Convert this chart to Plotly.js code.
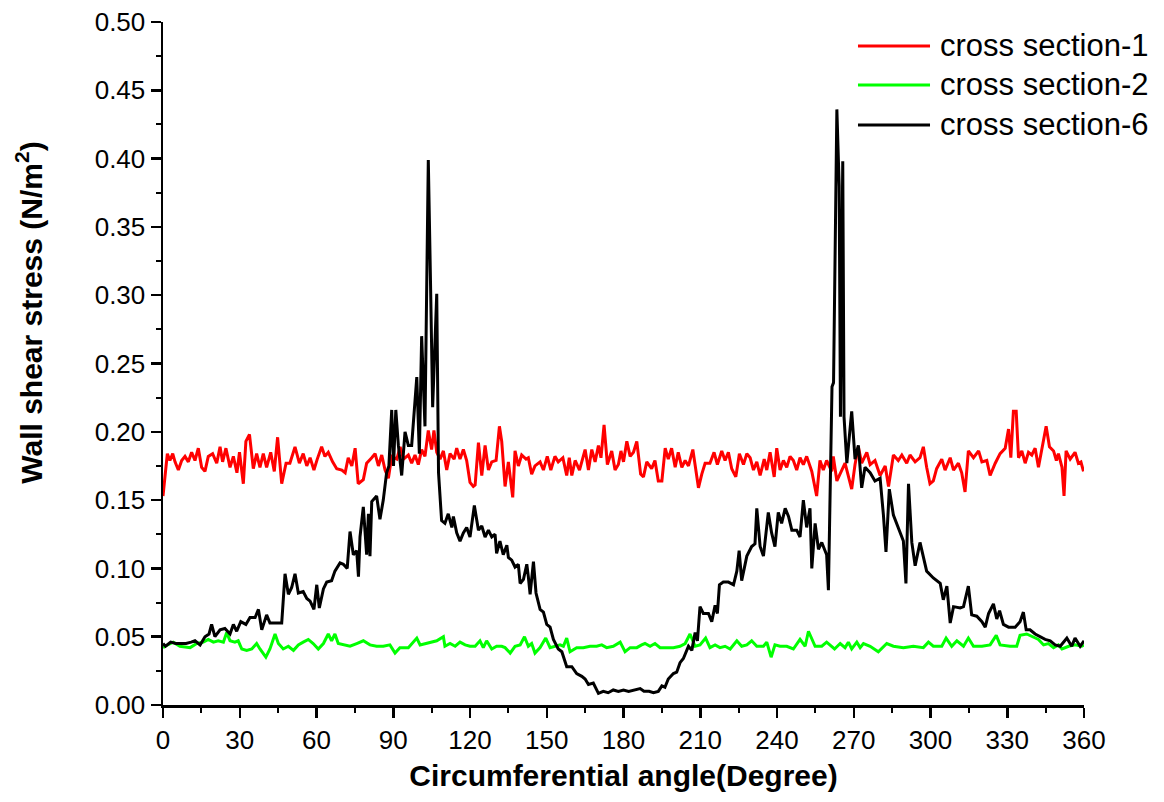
<!DOCTYPE html>
<html>
<head>
<meta charset="utf-8">
<script src="https://cdn.plot.ly/plotly-3.0.1.min.js"></script>
<style>html,body{margin:0;padding:0;background:#fff;}#chart{width:1164px;height:802px;}</style>
</head>
<body>
<div id="chart"></div>
<script>
// ---- cross section-1 (red) ----
const angle1 = [
  0, 1.7, 2.7, 3.8, 4.7, 6, 7.3, 8.6, 9.9, 11.2,
  12.5, 13.8, 15.1, 16.4, 17.7, 19.4, 21, 22.3, 23.3, 24.6,
  26.2, 27.5, 28.9, 29.9, 31.4, 32.4, 33.8, 35.3, 36.6, 37.9,
  39.2, 40.5, 42.1, 43.5, 44.8, 46.4, 48.1, 49.6, 51.6, 53.3,
  54.8, 56.2, 57.5, 59, 60.3, 62, 63.3, 64.6, 66.3, 67.9,
  69.9, 71.2, 72.4, 73.8, 75.1, 76.3, 78.3, 79.6, 81.6, 82.9,
  84.2, 85.5, 86.8, 88.1, 89.4, 91.4, 92.7, 94, 95.9, 97.2,
  98.5, 99.8, 101.1, 102.4, 103.7, 105, 105.9, 107, 108.3, 109.6,
  110.9, 112.2, 113.8, 114.8, 116.1, 117.4, 118.7, 120, 121.3, 122,
  123.3, 124.6, 125.9, 127.2, 128.5, 130.2, 131.5, 132.4, 133.7, 135,
  136.7, 137.6, 138.9, 140.2, 141.9, 142.8, 144.1, 145.4, 147.4, 148.7,
  150.2, 151.6, 153.2, 154.5, 156.3, 157.8, 158.8, 159.8, 161.1, 162.8,
  165, 166.3, 167.6, 168.9, 170.2, 171.2, 172.4, 173.7, 175.4, 176.7,
  178, 179, 180, 181.3, 182.6, 183.9, 185.2, 186.7, 187.8, 189.1,
  191, 192.3, 193.6, 195, 196.3, 197.5, 198.8, 200.2, 201.4, 202.8,
  204.1, 205.4, 207.1, 208, 209.3, 210.6, 211.9, 213.8, 215.4, 216.7,
  218.4, 219.7, 221, 222.3, 223.9, 225.3, 226.9, 228.2, 229.5, 230.8,
  232.1, 233.4, 235, 236, 237.3, 238.9, 239.9, 241.2, 242.5, 243.8,
  245.1, 246.4, 247.7, 249, 250.3, 251.6, 253.6, 255.5, 256.8, 258.1,
  259.4, 261.4, 262, 263.4, 264.7, 266.6, 269.2, 270.5, 271.8, 273.1,
  275.1, 276.4, 278.3, 280.3, 282.3, 283.6, 285.5, 287.4, 288.8, 290.7,
  292, 294, 295.9, 297.2, 298.5, 299.8, 301.1, 302.4, 304.4, 305.7,
  307.7, 309, 310.9, 312.2, 313.5, 314.8, 316.8, 318.8, 320.1, 322,
  323.3, 325.3, 327.2, 329.2, 330.5, 331.4, 332.4, 333.5, 334.4, 335.7,
  337, 338.3, 339.6, 340.9, 342.2, 343.9, 345.2, 346.5, 348.1, 349.2,
  350, 351.4, 352.2, 353, 354.6, 356.5, 357.8, 358.8, 359.8
];
const wss1 = [
  0.153, 0.184, 0.179, 0.184, 0.178, 0.172, 0.179, 0.182, 0.178, 0.185,
  0.179, 0.188, 0.174, 0.171, 0.182, 0.184, 0.177, 0.189, 0.178, 0.188,
  0.174, 0.182, 0.170, 0.185, 0.162, 0.193, 0.198, 0.173, 0.184, 0.174,
  0.184, 0.174, 0.185, 0.171, 0.196, 0.162, 0.177, 0.177, 0.189, 0.177,
  0.184, 0.175, 0.181, 0.172, 0.180, 0.189, 0.182, 0.185, 0.178, 0.173,
  0.172, 0.170, 0.181, 0.175, 0.188, 0.162, 0.165, 0.177, 0.181, 0.184,
  0.175, 0.183, 0.172, 0.166, 0.182, 0.180, 0.189, 0.180, 0.183, 0.177,
  0.183, 0.176, 0.187, 0.182, 0.201, 0.187, 0.201, 0.185, 0.180, 0.186,
  0.172, 0.184, 0.180, 0.188, 0.180, 0.187, 0.179, 0.163, 0.160, 0.161,
  0.192, 0.168, 0.190, 0.172, 0.178, 0.179, 0.204, 0.193, 0.160, 0.178,
  0.152, 0.186, 0.175, 0.183, 0.180, 0.181, 0.169, 0.175, 0.178, 0.172,
  0.182, 0.172, 0.182, 0.178, 0.181, 0.168, 0.181, 0.168, 0.179, 0.172,
  0.187, 0.172, 0.187, 0.178, 0.190, 0.181, 0.205, 0.176, 0.186, 0.172,
  0.176, 0.186, 0.178, 0.193, 0.182, 0.185, 0.193, 0.169, 0.167, 0.178,
  0.173, 0.179, 0.164, 0.164, 0.188, 0.180, 0.188, 0.174, 0.185, 0.174,
  0.179, 0.175, 0.187, 0.176, 0.159, 0.169, 0.177, 0.177, 0.185, 0.176,
  0.186, 0.179, 0.185, 0.173, 0.167, 0.184, 0.176, 0.184, 0.181, 0.172,
  0.178, 0.168, 0.180, 0.172, 0.185, 0.167, 0.188, 0.172, 0.179, 0.174,
  0.182, 0.179, 0.172, 0.181, 0.176, 0.182, 0.171, 0.153, 0.179, 0.172,
  0.179, 0.171, 0.182, 0.164, 0.169, 0.177, 0.158, 0.176, 0.189, 0.177,
  0.185, 0.176, 0.179, 0.168, 0.175, 0.160, 0.183, 0.179, 0.183, 0.177,
  0.183, 0.178, 0.181, 0.189, 0.174, 0.162, 0.164, 0.173, 0.180, 0.172,
  0.181, 0.172, 0.177, 0.170, 0.156, 0.186, 0.181, 0.186, 0.178, 0.179,
  0.168, 0.177, 0.184, 0.188, 0.202, 0.181, 0.215, 0.215, 0.181, 0.186,
  0.177, 0.185, 0.183, 0.188, 0.174, 0.190, 0.204, 0.189, 0.186, 0.179,
  0.184, 0.174, 0.153, 0.186, 0.180, 0.185, 0.177, 0.178, 0.171
];

// ---- cross section-2 (green) ----
const angle2 = [
  0, 0.8, 4, 6.6, 10.6, 13.2, 15.8, 17.7, 19.7, 21.6,
  23.6, 24.9, 26.2, 28.1, 29.4, 30.8, 32.7, 34.7, 36.6, 37.9,
  40.2, 41.8, 43.8, 45.1, 47, 49, 51, 52.9, 54.8, 56.8,
  58.7, 60.7, 62.7, 64.6, 65.9, 67.2, 68.5, 70.5, 73.1, 75.7,
  78.3, 80.9, 83.5, 86.1, 88.7, 90.7, 92.6, 95.9, 99.2, 100.5,
  103.1, 105, 107, 109.6, 110.2, 112.2, 114.2, 116.1, 118.1, 120,
  122, 123.9, 125.2, 126.5, 128.5, 130.4, 132.4, 133.7, 135.7, 137.6,
  139.6, 141.3, 142.8, 144.1, 145.4, 147.4, 149.6, 151.3, 153.2, 155.2,
  156.5, 157.8, 159.1, 161.7, 164.3, 166.9, 169.5, 171.5, 173.4, 176,
  178.7, 180.6, 182.6, 185.2, 187.1, 188.4, 190.4, 192.3, 194.3, 196.9,
  199.5, 202.1, 204.1, 206, 208, 209.9, 212.1, 213.8, 215.8, 217.7,
  219.7, 221.7, 224.3, 226.2, 228.2, 230.1, 232.1, 234.7, 236, 237.7,
  239.2, 241.2, 243.8, 246.4, 249, 251, 252.3, 254.9, 257.5, 259.4,
  262.5, 264.7, 266.6, 267.9, 269.2, 271.2, 272.5, 273.8, 276.4, 279.6,
  282.9, 285.5, 289.4, 293.3, 297.2, 299.2, 301.1, 304.4, 306.1, 308.3,
  310.3, 312.9, 314.8, 316.8, 320.1, 323.3, 325.7, 327.2, 331.1, 333.7,
  335, 337.6, 340.2, 342.2, 344.2, 346.1, 348.1, 350, 351.4, 354,
  356.5, 359.1, 360
];
const wss2 = [
  0.042, 0.043, 0.046, 0.043, 0.042, 0.045, 0.046, 0.048, 0.046, 0.047,
  0.046, 0.053, 0.047, 0.046, 0.047, 0.041, 0.040, 0.041, 0.045, 0.041,
  0.035, 0.041, 0.052, 0.045, 0.041, 0.043, 0.040, 0.044, 0.046, 0.048,
  0.045, 0.041, 0.045, 0.052, 0.047, 0.052, 0.045, 0.044, 0.043, 0.045,
  0.047, 0.044, 0.043, 0.043, 0.044, 0.038, 0.042, 0.042, 0.049, 0.044,
  0.045, 0.046, 0.047, 0.050, 0.043, 0.045, 0.043, 0.046, 0.044, 0.043,
  0.043, 0.047, 0.042, 0.047, 0.041, 0.043, 0.043, 0.042, 0.038, 0.043,
  0.044, 0.050, 0.043, 0.045, 0.038, 0.042, 0.049, 0.042, 0.043, 0.044,
  0.043, 0.049, 0.039, 0.042, 0.042, 0.043, 0.043, 0.044, 0.042, 0.043,
  0.046, 0.039, 0.042, 0.042, 0.044, 0.045, 0.043, 0.045, 0.042, 0.042,
  0.042, 0.043, 0.045, 0.052, 0.043, 0.044, 0.049, 0.042, 0.044, 0.042,
  0.043, 0.041, 0.047, 0.043, 0.044, 0.047, 0.043, 0.043, 0.046, 0.035,
  0.044, 0.043, 0.043, 0.041, 0.048, 0.043, 0.054, 0.043, 0.043, 0.046,
  0.041, 0.045, 0.042, 0.046, 0.041, 0.046, 0.042, 0.045, 0.043, 0.039,
  0.045, 0.043, 0.042, 0.043, 0.042, 0.046, 0.043, 0.043, 0.049, 0.043,
  0.047, 0.043, 0.049, 0.043, 0.043, 0.044, 0.051, 0.044, 0.043, 0.043,
  0.051, 0.052, 0.050, 0.048, 0.044, 0.045, 0.042, 0.044, 0.041, 0.043,
  0.044, 0.043, 0.044
];

// ---- cross section-6 (black) ----
const angle6 = [
  0, 1, 3, 5, 7, 9, 11, 12.5, 14.5, 16.4,
  18, 19, 20.3, 22.3, 24.2, 26.2, 27.5, 28.8, 30.4, 32.4,
  34, 36, 37.3, 38.6, 40.5, 41.8, 44.4, 46.4, 47.7, 49,
  50.3, 51.6, 52.9, 54.8, 56.2, 57.5, 59, 60.1, 61.1, 62.7,
  64, 65.9, 67.2, 69.2, 70.5, 72, 73.1, 74.4, 75.7, 76.4,
  77, 78.3, 79.6, 80.3, 80.9, 81.6, 83.5, 84.8, 86.1, 87.4,
  88.3, 89.4, 90.1, 91, 92, 93.3, 94.6, 95.9, 97.2, 97.9,
  99.2, 100.2, 101.1, 102.4, 103.7, 104.5, 105.4, 107, 107.7, 108.9,
  110.2, 111.5, 112.9, 113.5, 114.8, 116.1, 117.4, 118.7, 120, 121.7,
  123.3, 124.6, 125.9, 127.2, 128.5, 129.8, 130.4, 131.7, 133, 134.4,
  135, 136.3, 137.6, 138.9, 139.6, 140.9, 142.2, 142.8, 143.5, 144.8,
  145.8, 147.4, 148.7, 150, 151.3, 152.6, 154.5, 155.9, 157.8, 159.8,
  161.7, 163.7, 165, 166.3, 168.2, 170.2, 172.1, 174, 176, 178,
  180, 182, 184, 186.5, 188, 190, 191.7, 193.6, 195, 196.2,
  197.5, 199.5, 200.8, 202.1, 203.4, 205.4, 206.7, 208, 208.9, 209.9,
  211.2, 213.2, 214.5, 215.8, 216.7, 217.5, 219, 221, 223, 224.3,
  225.2, 226.2, 228.2, 230.1, 231.4, 232.1, 233.4, 234.7, 236.6, 237.9,
  239.2, 240.5, 241.8, 243.2, 244.5, 245.8, 247.7, 249, 250.3, 251.6,
  252.9, 253.6, 254.9, 256.2, 257.5, 259.4, 260.1, 261.5, 262.1, 263.4,
  264.3, 264.8, 265.7, 266.2, 267.3, 268.3, 269.2, 270.5, 271.8, 273.1,
  274.4, 276.4, 278.3, 280.3, 281.6, 282.6, 283.9, 285.5, 287.4, 289.4,
  290.4, 291.4, 292.7, 294, 295.9, 298.5, 301.1, 303.8, 305, 306.4,
  307.7, 309, 311.6, 312.9, 314.8, 316.1, 318.1, 320.1, 321.4, 322.7,
  324.6, 325.9, 327, 328.5, 330.5, 333.1, 335, 336.3, 337.4, 338.9,
  340.9, 342.9, 344.8, 346.8, 348.7, 350.7, 353.3, 355.2, 356.5, 358.5, 360
];
const wss6 = [
  0.045, 0.043, 0.046, 0.045, 0.045, 0.045, 0.046, 0.047, 0.044, 0.050,
  0.052, 0.059, 0.050, 0.055, 0.056, 0.052, 0.059, 0.054, 0.061, 0.059,
  0.064, 0.064, 0.070, 0.055, 0.066, 0.060, 0.060, 0.060, 0.096, 0.081,
  0.086, 0.096, 0.082, 0.083, 0.078, 0.076, 0.070, 0.088, 0.071, 0.085,
  0.090, 0.091, 0.098, 0.104, 0.103, 0.100, 0.127, 0.110, 0.113, 0.094,
  0.123, 0.145, 0.110, 0.140, 0.109, 0.149, 0.153, 0.136, 0.150, 0.170,
  0.175, 0.216, 0.175, 0.216, 0.190, 0.168, 0.200, 0.190, 0.190, 0.206,
  0.240, 0.184, 0.270, 0.204, 0.399, 0.316, 0.218, 0.301, 0.170, 0.135,
  0.133, 0.140, 0.130, 0.138, 0.126, 0.120, 0.126, 0.130, 0.123, 0.146,
  0.128, 0.131, 0.123, 0.128, 0.123, 0.125, 0.111, 0.120, 0.110, 0.117,
  0.108, 0.106, 0.101, 0.103, 0.089, 0.092, 0.103, 0.094, 0.081, 0.105,
  0.082, 0.070, 0.068, 0.059, 0.057, 0.048, 0.041, 0.039, 0.028, 0.028,
  0.023, 0.021, 0.019, 0.015, 0.016, 0.0085, 0.010, 0.009, 0.011, 0.010,
  0.011, 0.010, 0.011, 0.012, 0.010, 0.010, 0.009, 0.010, 0.014, 0.013,
  0.019, 0.023, 0.024, 0.031, 0.034, 0.043, 0.040, 0.053, 0.047, 0.072,
  0.067, 0.067, 0.061, 0.073, 0.067, 0.088, 0.090, 0.090, 0.088, 0.098,
  0.113, 0.091, 0.109, 0.116, 0.118, 0.144, 0.116, 0.109, 0.141, 0.126,
  0.116, 0.141, 0.133, 0.144, 0.138, 0.128, 0.128, 0.123, 0.150, 0.130,
  0.144, 0.100, 0.133, 0.114, 0.119, 0.110, 0.084, 0.233, 0.236, 0.436,
  0.380, 0.211, 0.398, 0.211, 0.177, 0.200, 0.215, 0.180, 0.190, 0.159,
  0.174, 0.170, 0.164, 0.166, 0.139, 0.112, 0.158, 0.139, 0.130, 0.120,
  0.089, 0.162, 0.119, 0.102, 0.119, 0.098, 0.093, 0.089, 0.077, 0.087,
  0.060, 0.072, 0.071, 0.072, 0.087, 0.066, 0.065, 0.061, 0.057, 0.067,
  0.074, 0.063, 0.069, 0.059, 0.057, 0.057, 0.061, 0.068, 0.055, 0.055,
  0.052, 0.050, 0.048, 0.047, 0.044, 0.043, 0.049, 0.043, 0.049, 0.043, 0.047
];

const seriesNames = ['cross section-1', 'cross section-2', 'cross section-6'];
const seriesColors = ['#ff0000', '#00ff00', '#000000'];
const xTitle = 'Circumferential angle(Degree)';
const yTitle = 'Wall shear stress (N/m<sup>2</sup>)';

const FONT = 'Arial, "Liberation Sans", sans-serif';
const LW = 3;

const traces = [
  {x: angle1, y: wss1, name: seriesNames[0], type: 'scatter', mode: 'lines', line: {color: seriesColors[0], width: LW}},
  {x: angle2, y: wss2, name: seriesNames[1], type: 'scatter', mode: 'lines', line: {color: seriesColors[1], width: LW}},
  {x: angle6, y: wss6, name: seriesNames[2], type: 'scatter', mode: 'lines', line: {color: seriesColors[2], width: LW}}
];

// legend drawn as a key in paper coordinates (longer line samples, as in the original)
const legendRowsY = [0.9649, 0.9078, 0.8492];
const legendShapes = seriesNames.map((n, i) => ({
  type: 'line', xref: 'paper', yref: 'paper',
  x0: 0.7546, x1: 0.8328, y0: legendRowsY[i], y1: legendRowsY[i],
  line: {color: seriesColors[i], width: 3}
}));
const legendTexts = seriesNames.map((n, i) => ({
  text: n, xref: 'paper', yref: 'paper',
  x: 0.8425, y: legendRowsY[i], xanchor: 'left', yanchor: 'middle',
  showarrow: false, borderpad: 0,
  font: {family: FONT, size: 31, color: '#000000'}
}));

const layout = {
  width: 1164, height: 802,
  margin: {l: 163, r: 80, t: 22, b: 97, pad: 0},
  paper_bgcolor: '#ffffff', plot_bgcolor: '#ffffff',
  font: {family: FONT, color: '#000000'},
  showlegend: false,
  xaxis: {
    range: [0, 360], tick0: 0, dtick: 30,
    showgrid: false, zeroline: false,
    showline: true, linecolor: '#000000', linewidth: 2.5,
    ticks: 'outside', ticklen: 10, tickwidth: 2.5, tickcolor: '#000000',
    minor: {dtick: 15, tick0: 0, ticks: 'outside', ticklen: 5, tickwidth: 2, tickcolor: '#000000', showgrid: false},
    tickfont: {family: FONT, size: 26, color: '#000000'},
    title: {text: xTitle, font: {family: FONT, size: 30, weight: 'bold', color: '#000000'}, standoff: 12}
  },
  yaxis: {
    range: [0, 0.5], tick0: 0, dtick: 0.05, tickformat: '.2f',
    showgrid: false, zeroline: false,
    showline: true, linecolor: '#000000', linewidth: 2.5,
    ticks: 'outside', ticklen: 10, tickwidth: 2.5, tickcolor: '#000000',
    minor: {dtick: 0.025, tick0: 0, ticks: 'outside', ticklen: 5, tickwidth: 2, tickcolor: '#000000', showgrid: false},
    tickfont: {family: FONT, size: 26, color: '#000000'}
  },
  shapes: legendShapes,
  annotations: [{
    text: yTitle, xref: 'paper', yref: 'paper',
    x: -0.145, y: 0.575, xanchor: 'center', yanchor: 'middle',
    textangle: -90, showarrow: false,
    font: {family: FONT, size: 30, weight: 'bold', color: '#000000'}
  }].concat(legendTexts)
};

Plotly.newPlot('chart', traces, layout, {displayModeBar: false, staticPlot: true});
</script>
</body>
</html>
